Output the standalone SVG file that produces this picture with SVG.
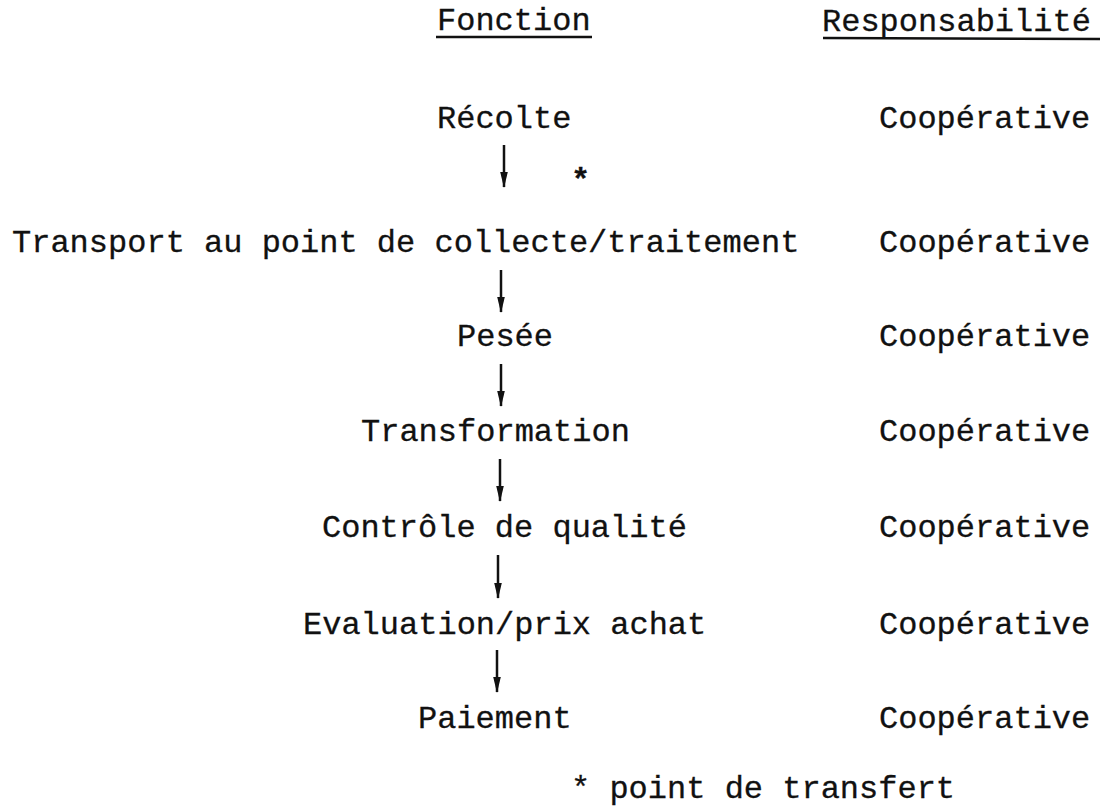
<svg xmlns="http://www.w3.org/2000/svg" width="1104" height="806" viewBox="0 0 1104 806">
  <style>
    .t { font-family: "Liberation Mono", "Courier New", monospace; font-size: 32px; fill: #111; stroke: #111; stroke-width: 0.3px; }
    .ul { stroke: #111; stroke-width: 2.5; }
    .arr { stroke: #111; stroke-width: 2.5; fill: none; marker-end: url(#head); }
  </style>
  <defs>
    <!-- narrow filled arrowhead, tip at the line end -->
    <marker id="head" markerUnits="userSpaceOnUse" markerWidth="16" markerHeight="10" refX="15" refY="5" orient="auto" viewBox="0 0 16 10">
      <path d="M0,1.2 L16,5 L0,8.8 Z" fill="#111"/>
    </marker>
  </defs>

  <rect width="1104" height="806" fill="#fff"/>

  <!-- column headings -->
  <g id="head-fonction">
    <text class="t" x="437" y="30">Fonction</text>
    <line class="ul" x1="436" y1="37" x2="592" y2="37"/>
  </g>
  <g id="head-responsabilite">
    <text class="t" x="822" y="31">Responsabilité</text>
    <line class="ul" x1="823" y1="38" x2="1100" y2="39"/>
  </g>

  <!-- process steps (left) -->
  <g id="step-recolte"><text class="t" x="437" y="128">Récolte</text></g>
  <g id="step-transport"><text class="t" x="12" y="252">Transport au point de collecte/traitement</text></g>
  <g id="step-pesee"><text class="t" x="457" y="346">Pesée</text></g>
  <g id="step-transformation"><text class="t" x="361" y="441">Transformation</text></g>
  <g id="step-controle"><text class="t" x="322" y="537">Contrôle de qualité</text></g>
  <g id="step-evaluation"><text class="t" x="303" y="634">Evaluation/prix achat</text></g>
  <g id="step-paiement"><text class="t" x="418" y="728">Paiement</text></g>

  <!-- responsibilities (right) -->
  <g id="resp-1"><text class="t" x="879" y="128">Coopérative</text></g>
  <g id="resp-2"><text class="t" x="879" y="252">Coopérative</text></g>
  <g id="resp-3"><text class="t" x="879" y="346">Coopérative</text></g>
  <g id="resp-4"><text class="t" x="879" y="441">Coopérative</text></g>
  <g id="resp-5"><text class="t" x="879" y="537">Coopérative</text></g>
  <g id="resp-6"><text class="t" x="879" y="634">Coopérative</text></g>
  <g id="resp-7"><text class="t" x="879" y="728">Coopérative</text></g>

  <!-- transfer point mark and note -->
  <g id="transfer-mark"><text class="t" x="571" y="190" font-weight="bold">*</text></g>
  <g id="note"><text class="t" x="571" y="798">* point de transfert</text></g>

  <!-- connectors -->
  <g id="connectors">
    <line class="arr" x1="504" y1="145" x2="504" y2="187"/>
    <line class="arr" x1="501" y1="270" x2="501" y2="312"/>
    <line class="arr" x1="501" y1="364" x2="501" y2="406"/>
    <line class="arr" x1="500" y1="459" x2="500" y2="501"/>
    <line class="arr" x1="498" y1="555" x2="498" y2="598"/>
    <line class="arr" x1="497" y1="650" x2="497" y2="692"/>
  </g>
</svg>
